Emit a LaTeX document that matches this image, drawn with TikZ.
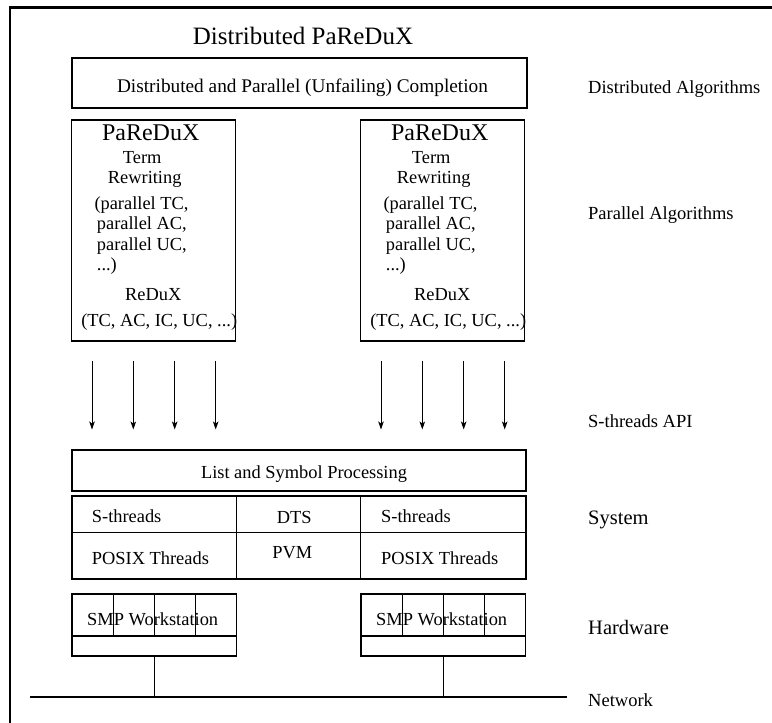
\documentclass[tikz,border=0pt]{standalone}
\usepackage{fontspec}
\setmainfont{Liberation Serif}
\usetikzlibrary{arrows.meta}
\begin{document}
\begin{tikzpicture}[x=1pt,y=-1pt,
  frame/.style={line width=2.6pt},
  bx/.style={draw,line width=1.1pt,inner sep=0pt,outer sep=0pt},
  tx/.style={inner sep=0pt,anchor=base,font=\fontsize{18.4}{20}\selectfont},
  txw/.style={tx,anchor=base west},
  lab/.style={inner sep=0pt,anchor=base west,font=\fontsize{18.5}{20}\selectfont},
  labbig/.style={lab,font=\fontsize{20.5}{22}\selectfont},
  arr/.style={line width=0.9pt,-{Stealth[length=8pt,width=5.5pt,inset=2pt]}},
  wire/.style={line width=1.2pt}]
\useasboundingbox (0,0) rectangle (772,723);
% frame
\coordinate (fTL) at (10,7.3);
\coordinate (fTR) at (772,7.3);
\coordinate (fBL) at (10,723);
\draw[frame] (fTR) -- (fTL) -- (fBL);
% title
\node[tx,font=\fontsize{25}{28}\selectfont] (title) at (303,44) {Distributed PaReDuX};
% distributed completion box
\node[bx,minimum width=455pt,minimum height=50pt,anchor=north west] (dpc) at (72,58) {};
\node[tx,font=\fontsize{19.3}{21}\selectfont] (dpct) at (302.5,92.5) {Distributed and Parallel (Unfailing) Completion};
% network line
\coordinate (netL) at (30,697);
\coordinate (netR) at (567,697);
\draw[wire] (netL) -- (netR);
% two PaReDuX columns
\foreach \s/\ox in {L/71.7,R/360.7}{
  \begin{scope}[shift={(\ox,0)}]
    \node[bx,minimum width=164pt,minimum height=221pt,anchor=north west] (pb\s) at (0,120) {};
    \node[tx,font=\fontsize{24}{26}\selectfont] (pbt\s) at (79,140) {PaReDuX};
    \node[tx] (term\s) at (70.5,163.5) {Term};
    \node[tx] (rew\s) at (73,183.5) {Rewriting};
    \node[txw] (ptc\s) at (22.6,209) {(parallel TC,};
    \node[txw] (pac\s) at (25,229.5) {parallel AC,};
    \node[txw] (puc\s) at (25,250) {parallel UC,};
    \node[txw] (pdots\s) at (25,270) {...)};
    \node[tx] (redux\s) at (81.5,300) {ReDuX};
    \node[tx] (tcs\s) at (87.5,326) {(TC, AC, IC, UC, ...)};
    \foreach \i/\ax in {1/20.3,2/61.6,3/103,4/144}{
      \coordinate (as\s\i) at (\ax,361);
      \coordinate (ae\s\i) at (\ax,429.5);
      \draw[arr] (as\s\i) -- (ae\s\i);
    }
    % SMP workstation
    \foreach \j in {0,1,2,3}{
      \node[bx,minimum width=41.2pt,minimum height=42pt,anchor=north west] (smp\s\j) at (0.3+41.2*\j,594) {};
    }
    \node[bx,minimum width=164.8pt,minimum height=20pt,anchor=north west] (smpb\s) at (0.3,636) {};
    \node[tx] (smpt\s) at (81,625) {SMP Workstation};
    \draw[wire] (smpb\s.south) -- (smpb\s.south |- netL);
  \end{scope}
}
% list and symbol processing
\node[bx,minimum width=454pt,minimum height=41pt,anchor=north west] (lsp) at (72,450) {};
\node[tx] (lspt) at (304,478) {List and Symbol Processing};
% system table
\node[bx,minimum width=164.5pt,minimum height=36.5pt,anchor=north west] (c11) at (72,496) {};
\node[bx,minimum width=123.8pt,minimum height=36.5pt,anchor=north west] (c12) at (236.5,496) {};
\node[bx,minimum width=165.7pt,minimum height=36.5pt,anchor=north west] (c13) at (360.3,496) {};
\node[bx,minimum width=164.5pt,minimum height=46.5pt,anchor=north west] (c21) at (72,532.5) {};
\node[bx,minimum width=123.8pt,minimum height=46.5pt,anchor=north west] (c22) at (236.5,532.5) {};
\node[bx,minimum width=165.7pt,minimum height=46.5pt,anchor=north west] (c23) at (360.3,532.5) {};
\node[txw] (st1) at (91.7,522) {S-threads};
\node[txw] (px1) at (91.7,564) {POSIX Threads};
\node[tx] (dts) at (294.3,523) {DTS};
\node[tx] (pvm) at (292.3,558) {PVM};
\node[txw] (st2) at (381,522) {S-threads};
\node[txw] (px2) at (381,564) {POSIX Threads};
% level labels
\node[lab] (l1) at (588,93) {Distributed Algorithms};
\node[lab] (l2) at (588,219) {Parallel Algorithms};
\node[lab] (l3) at (588,427) {S-threads API};
\node[labbig] (l4) at (588,524) {System};
\node[labbig] (l5) at (588,634) {Hardware};
\node[lab] (l6) at (588,706) {Network};
\end{tikzpicture}
\end{document}
